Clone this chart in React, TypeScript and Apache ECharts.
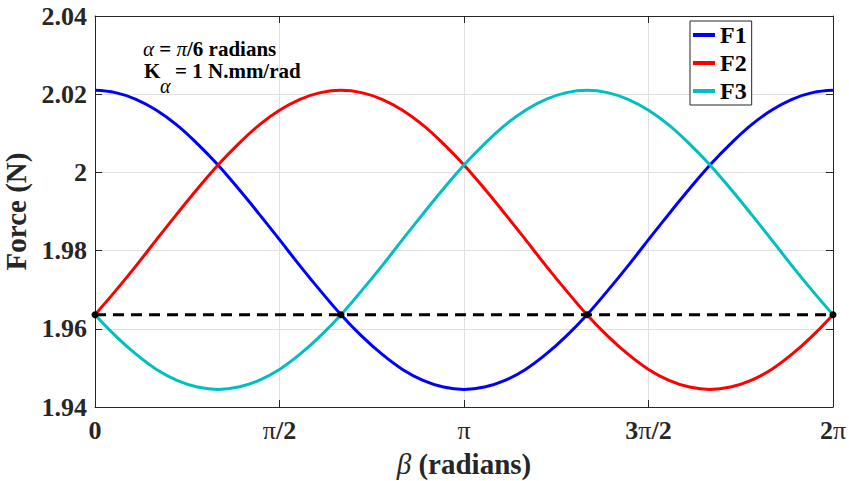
import React, { useEffect, useRef } from "react";
import * as echarts from "echarts";

// beta sample points in degrees
const betaDeg = [
  0, 10, 20, 30, 40, 50, 60, 70, 80, 90, 100, 110, 120, 130, 140, 150, 160, 170, 180,
  190, 200, 210, 220, 230, 240, 250, 260, 270, 280, 290, 300, 310, 320, 330, 340, 350, 360,
];

const F1 = [
  2.021, 2.0204, 2.0187, 2.0159, 2.0121, 2.0073, 2.0019, 1.9958, 1.9894, 1.9828, 1.9761,
  1.9697, 1.9636, 1.9582, 1.9535, 1.9496, 1.9468, 1.9451, 1.9445, 1.9451, 1.9468, 1.9496,
  1.9535, 1.9582, 1.9636, 1.9697, 1.9761, 1.9828, 1.9894, 1.9958, 2.0019, 2.0073, 2.0121,
  2.0159, 2.0187, 2.0204, 2.021,
];

const F2 = [
  1.9636, 1.9697, 1.9761, 1.9828, 1.9894, 1.9958, 2.0019, 2.0073, 2.0121, 2.0159, 2.0187,
  2.0204, 2.021, 2.0204, 2.0187, 2.0159, 2.0121, 2.0073, 2.0019, 1.9958, 1.9894, 1.9828,
  1.9761, 1.9697, 1.9636, 1.9582, 1.9535, 1.9496, 1.9468, 1.9451, 1.9445, 1.9451, 1.9468,
  1.9496, 1.9535, 1.9582, 1.9636,
];

const F3 = [
  1.9636, 1.9582, 1.9535, 1.9496, 1.9468, 1.9451, 1.9445, 1.9451, 1.9468, 1.9496, 1.9535,
  1.9582, 1.9636, 1.9697, 1.9761, 1.9828, 1.9894, 1.9958, 2.0019, 2.0073, 2.0121, 2.0159,
  2.0187, 2.0204, 2.021, 2.0204, 2.0187, 2.0159, 2.0121, 2.0073, 2.0019, 1.9958, 1.9894,
  1.9828, 1.9761, 1.9697, 1.9636,
];

const refLevel = 1.9636;
const refDeg = [0, 120, 240, 360];

const xTickLabels = ["0", "π/2", "π", "3π/2", "2π"];
const seriesNames = ["F1", "F2", "F3"];
const seriesColors = ["#0000ff", "#ff0000", "#00bfbf"];

const FONT = "'Liberation Serif','Times New Roman',serif";
const DARK = "#262626";

const toRad = (d: number) => (d * Math.PI) / 180;

export default function App() {
  const ref = useRef<HTMLDivElement>(null);

  useEffect(() => {
    document.body.style.margin = "0";
    if (!ref.current) return;
    const chart = echarts.init(ref.current, null, { renderer: "svg" });

    const piRich = {
      p: { fontFamily: FONT, fontSize: 26, fontWeight: "normal", color: DARK },
    };

    const lineSeries = [F1, F2, F3].map((arr, i) => ({
      name: seriesNames[i],
      type: "line",
      xAxisIndex: 0,
      yAxisIndex: 0,
      data: arr.map((v, k) => [toRad(betaDeg[k]), v]),
      symbol: "none",
      smooth: 0.4,
      lineStyle: { color: seriesColors[i], width: 3 },
      itemStyle: { color: seriesColors[i] },
      z: 3,
    }));

    const option: any = {
      animation: false,
      backgroundColor: "#ffffff",
      grid: {
        left: 95,
        right: 16,
        top: 16,
        bottom: 74,
        containLabel: false,
        outerBoundsMode: "none",
      },
      legend: {
        data: seriesNames,
        orient: "vertical",
        left: 690,
        top: 21,
        icon: "rect",
        itemWidth: 22,
        itemHeight: 4,
        itemGap: 4,
        padding: [2, 5, 2, 3],
        borderColor: DARK,
        borderWidth: 1,
        backgroundColor: "#ffffff",
        textStyle: { fontFamily: FONT, fontSize: 24, fontWeight: "bold", color: "#000" },
      },
      xAxis: [
        {
          type: "value",
          min: 0,
          max: 2 * Math.PI,
          interval: Math.PI / 2,
          position: "bottom",
          axisLine: { show: true, onZero: false, lineStyle: { color: DARK, width: 1 } },
          axisTick: { show: true, inside: true, length: 7, lineStyle: { color: DARK } },
          splitLine: { show: true, lineStyle: { color: "#e0e0e0", width: 1 } },
          axisLabel: {
            showMinLabel: true,
            showMaxLabel: true,
            margin: 10,
            fontFamily: FONT,
            fontSize: 26,
            fontWeight: "bold",
            color: DARK,
            rich: piRich,
            formatter: (v: number) => {
              const idx = Math.round(v / (Math.PI / 2));
              const lab = xTickLabels[idx] ?? "";
              return lab.replace("π", "{p|π}");
            },
          },
          name: "{g|β} (radians)",
          nameLocation: "middle",
          nameGap: 42,
          nameTextStyle: {
            fontFamily: FONT,
            fontSize: 29,
            fontWeight: "bold",
            color: DARK,
            rich: {
              g: { fontFamily: FONT, fontSize: 29, fontStyle: "italic", fontWeight: "normal", color: DARK },
            },
          },
        },
        {
          type: "value",
          min: 0,
          max: 2 * Math.PI,
          interval: Math.PI / 2,
          position: "top",
          axisLine: { show: true, onZero: false, lineStyle: { color: DARK, width: 1 } },
          axisTick: { show: true, inside: true, length: 7, lineStyle: { color: DARK } },
          splitLine: { show: false },
          axisLabel: { show: false },
        },
      ],
      yAxis: [
        {
          type: "value",
          min: 1.94,
          max: 2.04,
          interval: 0.02,
          position: "left",
          axisLine: { show: true, onZero: false, lineStyle: { color: DARK, width: 1 } },
          axisTick: { show: true, inside: true, length: 7, lineStyle: { color: DARK } },
          splitLine: { show: true, lineStyle: { color: "#e0e0e0", width: 1 } },
          axisLabel: {
            margin: 8,
            fontFamily: FONT,
            fontSize: 26,
            fontWeight: "bold",
            color: DARK,
            formatter: (v: number) => String(Math.round(v * 100) / 100),
          },
          name: "Force (N)",
          nameLocation: "middle",
          nameGap: 54,
          nameTextStyle: { fontFamily: FONT, fontSize: 29, fontWeight: "bold", color: DARK },
        },
        {
          type: "value",
          min: 1.94,
          max: 2.04,
          interval: 0.02,
          position: "right",
          axisLine: { show: true, onZero: false, lineStyle: { color: DARK, width: 1 } },
          axisTick: { show: true, inside: true, length: 7, lineStyle: { color: DARK } },
          splitLine: { show: false },
          axisLabel: { show: false },
        },
      ],
      series: [
        ...lineSeries,
        {
          name: "ref",
          type: "line",
          xAxisIndex: 0,
          yAxisIndex: 0,
          data: refDeg.map((d) => [toRad(d), refLevel]),
          symbol: "circle",
          symbolSize: 7,
          showAllSymbol: true,
          itemStyle: { color: "#000" },
          lineStyle: { color: "#000", width: 3, type: [11, 7] },
          z: 5,
        },
      ],
      graphic: [
        {
          type: "text",
          x: 143,
          y: 49,
          z: 10,
          style: {
            text: "{g|α} = {g|π}/6 radians",
            fontFamily: FONT,
            fontSize: 21,
            fontWeight: "bold",
            fill: "#000",
            verticalAlign: "middle",
            align: "left",
            rich: {
              g: { fontFamily: FONT, fontSize: 21, fontWeight: "normal", fontStyle: "italic", fill: "#000" },
            },
          },
        },
        {
          type: "text",
          x: 144,
          y: 71,
          z: 10,
          style: {
            text: "K",
            fontFamily: FONT,
            fontSize: 21,
            fontWeight: "bold",
            fill: "#000",
            verticalAlign: "middle",
            align: "left",
          },
        },
        {
          type: "text",
          x: 160,
          y: 86,
          z: 10,
          style: {
            text: "α",
            fontFamily: FONT,
            fontSize: 20,
            fontStyle: "italic",
            fill: "#000",
            verticalAlign: "middle",
            align: "left",
          },
        },
        {
          type: "text",
          x: 175,
          y: 71,
          z: 10,
          style: {
            text: "= 1 N.mm/rad",
            fontFamily: FONT,
            fontSize: 21,
            fontWeight: "bold",
            fill: "#000",
            verticalAlign: "middle",
            align: "left",
          },
        },
      ],
    };

    chart.setOption(option);
    return () => chart.dispose();
  }, []);

  return <div ref={ref} style={{ width: 849, height: 481 }} />;
}
